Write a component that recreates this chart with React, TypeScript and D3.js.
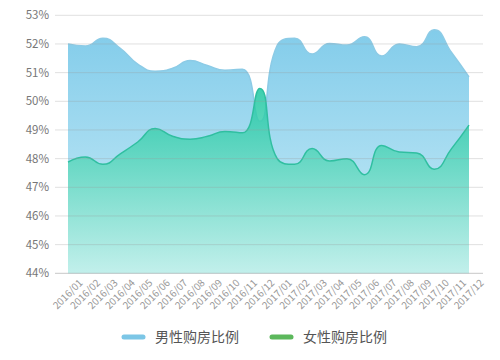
import * as d3 from "d3";
import { useEffect, useRef } from "react";

const months = [
  "2016/01", "2016/02", "2016/03", "2016/04", "2016/05", "2016/06",
  "2016/07", "2016/08", "2016/09", "2016/10", "2016/11", "2016/12",
  "2017/01", "2017/02", "2017/03", "2017/04", "2017/05", "2017/06",
  "2017/07", "2017/08", "2017/09", "2017/10", "2017/11", "2017/12",
];
const male = [
  52.0, 51.93, 52.2, 51.85, 51.3, 51.05, 51.15, 51.42, 51.25, 51.08, 51.12, 49.3,
  51.95, 52.2, 51.65, 52.02, 51.96, 52.25, 51.58, 52.0, 51.9, 52.5, 51.7, 50.85,
];
const female = [
  47.88, 48.06, 47.8, 48.17, 48.58, 49.05, 48.78, 48.68, 48.78, 48.95, 48.9, 50.45,
  48.0, 47.8, 48.35, 47.92, 48.0, 47.44, 48.46, 48.23, 48.2, 47.63, 48.35, 49.17,
];
const yTicks = [44, 45, 46, 47, 48, 49, 50, 51, 52, 53];
const seriesNames = ["男性购房比例", "女性购房比例"];

const clamp = (v: number, a: number, b: number) =>
  Math.min(Math.max(v, Math.min(a, b)), Math.max(a, b));

// bezier smoothing with control points kept inside each segment's box
const smoothCurve = (context: any) => {
  const smooth = 0.5;
  let pts: [number, number][] = [];
  let flag = NaN;
  return {
    areaStart() { flag = 0; },
    areaEnd() { flag = NaN; },
    lineStart() { pts = []; },
    point(x: number, y: number) { pts.push([+x, +y]); },
    lineEnd() {
      const n = pts.length;
      if (n) {
        if (flag) context.lineTo(pts[0][0], pts[0][1]);
        else context.moveTo(pts[0][0], pts[0][1]);
        let c1x = pts[0][0];
        let c1y = pts[0][1];
        for (let i = 1; i < n; i++) {
          const [x, y] = pts[i];
          const [px, py] = pts[i - 1];
          let c0x = x, c0y = y, nx = x, ny = y;
          if (i < n - 1) {
            const [qx, qy] = pts[i + 1];
            const l0 = Math.hypot(x - px, y - py);
            const l1 = Math.hypot(qx - x, qy - y);
            const r = l1 / (l0 + l1);
            nx = clamp(x + (qx - px) * smooth * r, x, qx);
            ny = clamp(y + (qy - py) * smooth * r, y, qy);
            let vx = nx - x, vy = ny - y;
            c0x = clamp(x - (vx * l0) / l1, px, x);
            c0y = clamp(y - (vy * l0) / l1, py, y);
            vx = x - c0x;
            vy = y - c0y;
            nx = x + (vx * l1) / l0;
            ny = y + (vy * l1) / l0;
          }
          context.bezierCurveTo(c1x, c1y, c0x, c0y, x, y);
          c1x = nx;
          c1y = ny;
        }
      }
      if (flag || (flag !== 0 && n === 1)) context.closePath();
      flag = 1 - flag;
    },
  };
};

const App = () => {
  const ref = useRef<SVGSVGElement>(null);

  useEffect(() => {
    const svg = d3.select(ref.current);
    svg.selectAll("*").remove();
    const width = 500;
    const height = 360;
    const font = "'Noto Sans CJK SC', 'Noto Sans', sans-serif";

    const x = d3.scalePoint<string>().domain(months).range([68, 469]);
    const y = d3.scaleLinear().domain([44, 53]).range([273.3, 15.3]);

    svg.attr("viewBox", [0, 0, width, height]);

    const defs = svg.append("defs");
    const gradMale = defs
      .append("linearGradient")
      .attr("id", "gMale")
      .attr("x1", 0).attr("y1", 0).attr("x2", 0).attr("y2", 1);
    gradMale.append("stop").attr("offset", "0%").attr("stop-color", "#82ccea");
    gradMale.append("stop").attr("offset", "100%").attr("stop-color", "#ccedf8");
    const gradFemale = defs
      .append("linearGradient")
      .attr("id", "gFemale")
      .attr("x1", 0).attr("y1", 0).attr("x2", 0).attr("y2", 1);
    gradFemale.append("stop").attr("offset", "0%").attr("stop-color", "#1cc7a0");
    gradFemale.append("stop").attr("offset", "100%").attr("stop-color", "#c0f0e9");

    const area = (vals: number[]) =>
      d3
        .area<number>()
        .x((_, i) => x(months[i]) as number)
        .y0(y(44))
        .y1((d) => y(d))
        .curve(smoothCurve as any)(vals);
    const line = (vals: number[]) =>
      d3
        .line<number>()
        .x((_, i) => x(months[i]) as number)
        .y((d) => y(d))
        .curve(smoothCurve as any)(vals);

    // Areas
    svg.append("path").attr("d", area(male)).attr("fill", "url(#gMale)");
    svg.append("path").attr("d", line(male)).attr("fill", "none").attr("stroke", "#8ccbe6").attr("stroke-width", 1.5);
    svg.append("path").attr("d", area(female)).attr("fill", "url(#gFemale)").attr("fill-opacity", 0.85);
    svg.append("path").attr("d", line(female)).attr("fill", "none").attr("stroke", "#30bfa0").attr("stroke-width", 1.5);

    // Grid
    svg
      .append("g")
      .selectAll("line")
      .data(yTicks)
      .join("line")
      .attr("x1", 55)
      .attr("x2", 483)
      .attr("y1", (d) => y(d))
      .attr("y2", (d) => y(d))
      .attr("stroke", "#999")
      .attr("stroke-opacity", (d) => (d === 44 ? 0.55 : 0.3))
      .attr("stroke-width", 1);

    // Y labels
    svg
      .append("g")
      .selectAll("text")
      .data(yTicks)
      .join("text")
      .attr("x", 49)
      .attr("y", (d) => y(d))
      .attr("dy", "0.35em")
      .attr("text-anchor", "end")
      .attr("font-family", font)
      .attr("font-size", 11.5)
      .attr("fill", "#777")
      .text((d) => `${d}%`);

    // X labels
    svg
      .append("g")
      .selectAll("text")
      .data(months)
      .join("text")
      .attr("transform", (d) => `translate(${(x(d) as number) + 13},${281}) rotate(-45)`)
      .attr("text-anchor", "end")
      .attr("dy", "0.35em")
      .attr("font-family", font)
      .attr("font-size", 10)
      .attr("fill", "#999")
      .text((d) => d);

    // Legend
    const legend = [
      { name: seriesNames[0], color: "#7cc6e6", x: 122 },
      { name: seriesNames[1], color: "#5cb85c", x: 270 },
    ];
    const lg = svg.append("g").selectAll("g").data(legend).join("g");
    lg.append("line")
      .attr("x1", (d) => d.x + 2)
      .attr("x2", (d) => d.x + 21)
      .attr("y1", 337)
      .attr("y2", 337)
      .attr("stroke", (d) => d.color)
      .attr("stroke-width", 5)
      .attr("stroke-linecap", "round");
    lg.append("text")
      .attr("x", (d) => d.x + 33)
      .attr("y", 337)
      .attr("dy", "0.35em")
      .attr("font-family", font)
      .attr("font-size", 14)
      .attr("fill", "#555")
      .text((d) => d.name);
  }, []);

  return (
    <svg
      ref={ref}
      width={500}
      height={360}
      style={{ position: "absolute", left: 0, top: 0, background: "#fff" }}
    />
  );
};

export default App;
